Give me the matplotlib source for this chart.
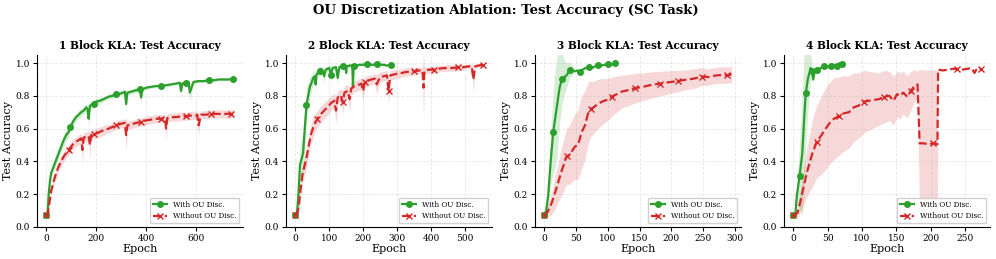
import numpy as np
import matplotlib
matplotlib.use("Agg")
import matplotlib.pyplot as plt

plt.rcParams['font.family'] = ['DejaVu Serif']

GREEN = '#2ca02c'
RED = '#d62728'

# ---- 1 block ----
g1_ep = [0, 5, 10, 15, 20, 30, 40, 50, 60, 70,
         80, 90, 95, 100, 110, 120, 130, 140, 150, 160,
         165, 170, 175, 190, 200, 215, 230, 250, 265, 280,
         300, 315, 320, 325, 340, 360, 375, 380, 385, 400,
         420, 440, 460, 480, 500, 520, 535, 540, 545, 560,
         570, 575, 590, 610, 630, 650, 670, 690, 710, 730,
         750]
g1_acc = [0.07, 0.07, 0.20, 0.28, 0.33, 0.37, 0.41, 0.45, 0.49, 0.53,
          0.56, 0.58, 0.61, 0.62, 0.65, 0.67, 0.685, 0.70, 0.71, 0.73,
          0.72, 0.66, 0.74, 0.75, 0.765, 0.77, 0.78, 0.795, 0.80, 0.81,
          0.815, 0.825, 0.75, 0.82, 0.825, 0.835, 0.84, 0.79, 0.84, 0.85,
          0.855, 0.86, 0.86, 0.865, 0.87, 0.875, 0.88, 0.83, 0.875, 0.88,
          0.885, 0.82, 0.885, 0.89, 0.89, 0.895, 0.895, 0.90, 0.90, 0.90,
          0.905]
g1_std = [0.0, 0.01, 0.03, 0.03, 0.03, 0.03, 0.035, 0.035, 0.035, 0.035,
          0.035, 0.035, 0.03, 0.03, 0.03, 0.025, 0.025, 0.025, 0.02, 0.02,
          0.02, 0.05, 0.02, 0.02, 0.02, 0.02, 0.015, 0.015, 0.015, 0.015,
          0.015, 0.015, 0.05, 0.015, 0.015, 0.015, 0.01, 0.04, 0.01, 0.01,
          0.01, 0.01, 0.01, 0.01, 0.01, 0.01, 0.01, 0.05, 0.01, 0.01,
          0.01, 0.06, 0.01, 0.01, 0.01, 0.01, 0.01, 0.01, 0.01, 0.01,
          0.01]

r1_ep = [0, 5, 10, 15, 20, 30, 40, 50, 60, 70,
         80, 90, 100, 110, 120, 130, 140, 145, 150, 160,
         170, 175, 180, 190, 200, 215, 230, 250, 265, 280,
         300, 315, 320, 325, 340, 360, 380, 400, 420, 440,
         460, 475, 480, 485, 500, 520, 540, 560, 580, 600,
         605, 610, 620, 640, 660, 680, 700, 720, 740, 750]
r1_acc = [0.07, 0.07, 0.12, 0.17, 0.22, 0.28, 0.33, 0.37, 0.40, 0.43,
          0.45, 0.47, 0.49, 0.51, 0.52, 0.53, 0.54, 0.47, 0.545, 0.55,
          0.555, 0.50, 0.56, 0.565, 0.57, 0.58, 0.59, 0.60, 0.61, 0.62,
          0.63, 0.635, 0.56, 0.62, 0.625, 0.635, 0.64, 0.65, 0.655, 0.66,
          0.66, 0.665, 0.60, 0.665, 0.67, 0.67, 0.675, 0.675, 0.68, 0.68,
          0.685, 0.62, 0.685, 0.685, 0.69, 0.69, 0.69, 0.69, 0.69, 0.69]
r1_std = [0.0, 0.01, 0.02, 0.02, 0.025, 0.03, 0.03, 0.03, 0.03, 0.03,
          0.03, 0.03, 0.03, 0.03, 0.03, 0.03, 0.03, 0.08, 0.03, 0.03,
          0.03, 0.08, 0.03, 0.03, 0.03, 0.03, 0.03, 0.025, 0.025, 0.025,
          0.025, 0.025, 0.1, 0.025, 0.025, 0.025, 0.025, 0.025, 0.025, 0.025,
          0.025, 0.025, 0.07, 0.025, 0.025, 0.025, 0.025, 0.025, 0.025, 0.025,
          0.025, 0.06, 0.025, 0.025, 0.025, 0.025, 0.025, 0.025, 0.025, 0.025]

# ---- 2 blocks ----
g2_ep = [0, 5, 9, 14, 18, 23, 28, 33, 38, 43,
         48, 53, 58, 60, 62, 66, 72, 80, 85, 90,
         100, 105, 110, 120, 125, 130, 140, 148, 150, 152,
         160, 168, 170, 172, 180, 190, 200, 210, 220, 230,
         240, 250, 260, 270, 283]
g2_acc = [0.07, 0.08, 0.19, 0.38, 0.41, 0.45, 0.60, 0.745, 0.80, 0.855,
          0.88, 0.91, 0.92, 0.87, 0.925, 0.94, 0.95, 0.955, 0.92, 0.96,
          0.97, 0.93, 0.97, 0.975, 0.91, 0.975, 0.98, 0.975, 0.94, 0.98,
          0.985, 0.985, 0.86, 0.98, 0.985, 0.99, 0.99, 0.995, 0.99, 0.99,
          0.995, 0.99, 0.99, 0.985, 0.99]
g2_std = [0.0, 0.02, 0.06, 0.1, 0.12, 0.12, 0.12, 0.1, 0.08, 0.06,
          0.05, 0.04, 0.035, 0.05, 0.035, 0.03, 0.03, 0.025, 0.04, 0.02,
          0.02, 0.04, 0.015, 0.015, 0.05, 0.01, 0.01, 0.01, 0.04, 0.01,
          0.01, 0.01, 0.08, 0.01, 0.01, 0.005, 0.005, 0.005, 0.005, 0.005,
          0.005, 0.005, 0.005, 0.005, 0.005]

r2_ep = [0, 5, 10, 15, 22, 32, 40, 47, 55, 65,
         76, 85, 95, 105, 115, 120, 125, 134, 140, 145,
         155, 160, 165, 173, 185, 195, 200, 205, 221, 235,
         240, 250, 262, 270, 275, 280, 290, 300, 315, 325,
         338, 350, 365, 375, 378, 381, 395, 410, 420, 435,
         450, 465, 480, 495, 510, 520, 525, 530, 540, 552]
r2_acc = [0.07, 0.08, 0.12, 0.22, 0.33, 0.41, 0.50, 0.57, 0.62, 0.66,
          0.69, 0.71, 0.73, 0.755, 0.77, 0.71, 0.79, 0.805, 0.76, 0.82,
          0.83, 0.78, 0.845, 0.857, 0.865, 0.875, 0.83, 0.885, 0.898, 0.905,
          0.87, 0.915, 0.92, 0.925, 0.83, 0.925, 0.93, 0.935, 0.94, 0.945,
          0.949, 0.95, 0.955, 0.955, 0.85, 0.955, 0.96, 0.96, 0.965, 0.969,
          0.97, 0.97, 0.975, 0.975, 0.98, 0.98, 0.90, 0.98, 0.985, 0.99]
r2_std = [0.0, 0.01, 0.03, 0.05, 0.06, 0.06, 0.06, 0.06, 0.06, 0.05,
          0.05, 0.05, 0.05, 0.045, 0.045, 0.08, 0.04, 0.04, 0.07, 0.04,
          0.04, 0.07, 0.04, 0.035, 0.035, 0.035, 0.06, 0.035, 0.03, 0.03,
          0.06, 0.03, 0.03, 0.03, 0.08, 0.03, 0.03, 0.025, 0.025, 0.025,
          0.025, 0.025, 0.02, 0.02, 0.2, 0.02, 0.02, 0.02, 0.02, 0.02,
          0.02, 0.02, 0.02, 0.015, 0.015, 0.015, 0.08, 0.015, 0.01, 0.01]

# ---- 3 blocks ----
g3_ep = [0, 3, 6, 10, 14, 17, 20, 24, 28, 32,
         36, 40, 44, 48, 52, 56, 60, 65, 70, 75,
         80, 84, 90, 95, 100, 106, 112]
g3_acc = [0.07, 0.10, 0.19, 0.40, 0.58, 0.66, 0.74, 0.85, 0.905, 0.915,
          0.93, 0.96, 0.955, 0.95, 0.955, 0.945, 0.96, 0.97, 0.975, 0.97,
          0.98, 0.99, 0.985, 0.99, 0.995, 0.99, 1.0]
g3_std = [0.0, 0.03, 0.08, 0.15, 0.25, 0.3, 0.3, 0.22, 0.15, 0.1,
          0.07, 0.05, 0.03, 0.0, 0.0, 0.0, 0.0, 0.0, 0.0, 0.0,
          0.0, 0.0, 0.0, 0.0, 0.0, 0.0, 0.0]

r3_ep = [0, 5, 12, 17, 22, 28, 35, 40, 48, 53,
         59, 64, 69, 73, 77, 84, 91, 98, 106, 114,
         122, 132, 143, 155, 169, 182, 196, 210, 222, 235,
         248, 258, 269, 280, 288, 295]
r3_acc = [0.07, 0.09, 0.15, 0.21, 0.275, 0.35, 0.43, 0.44, 0.49, 0.50,
          0.58, 0.62, 0.694, 0.72, 0.728, 0.75, 0.765, 0.775, 0.795, 0.81,
          0.826, 0.835, 0.847, 0.855, 0.867, 0.875, 0.883, 0.89, 0.898, 0.905,
          0.918, 0.915, 0.924, 0.928, 0.925, 0.932]
r3_std = [0.0, 0.03, 0.07, 0.1, 0.12, 0.15, 0.17, 0.18, 0.2, 0.21,
          0.22, 0.21, 0.19, 0.17, 0.16, 0.15, 0.14, 0.13, 0.12, 0.11,
          0.1, 0.095, 0.09, 0.085, 0.08, 0.075, 0.07, 0.065, 0.06, 0.06,
          0.055, 0.05, 0.05, 0.05, 0.05, 0.05]

# ---- 4 blocks ----
g4_ep = [0, 3, 5, 9, 13, 16, 18, 21, 25, 27,
         29, 31, 35, 40, 45, 50, 55, 59, 63, 67,
         71, 74]
g4_acc = [0.07, 0.08, 0.19, 0.31, 0.45, 0.68, 0.816, 0.90, 0.97, 0.95,
          0.90, 0.95, 0.96, 0.97, 0.98, 0.975, 0.985, 0.99, 0.98, 1.0,
          0.995, 1.0]
g4_std = [0.0, 0.02, 0.05, 0.2, 0.38, 0.4, 0.32, 0.2, 0.08, 0.05,
          0.0, 0.0, 0.0, 0.0, 0.0, 0.0, 0.0, 0.0, 0.0, 0.0,
          0.0, 0.0]

r4_ep = [0, 6, 10, 13, 20, 27, 34, 41, 47, 53,
         59, 66, 74, 81, 88, 95, 103, 110, 117, 125,
         132, 140, 146, 151, 156, 160, 166, 171, 176, 181,
         184, 190, 197, 204, 210, 211, 218, 225, 232, 239,
         246, 253, 260, 264, 268, 273]
r4_acc = [0.07, 0.085, 0.15, 0.21, 0.337, 0.44, 0.52, 0.56, 0.60, 0.635,
          0.66, 0.675, 0.694, 0.70, 0.73, 0.74, 0.765, 0.77, 0.775, 0.78,
          0.795, 0.80, 0.77, 0.81, 0.80, 0.82, 0.795, 0.83, 0.857, 0.87,
          0.51, 0.51, 0.505, 0.51, 0.505, 0.96, 0.955, 0.96, 0.965, 0.965,
          0.96, 0.965, 0.97, 0.94, 0.97, 0.965]
r4_std = [0.0, 0.03, 0.06, 0.1, 0.15, 0.2, 0.22, 0.24, 0.25, 0.25,
          0.25, 0.24, 0.23, 0.22, 0.21, 0.2, 0.19, 0.18, 0.17, 0.16,
          0.16, 0.15, 0.15, 0.14, 0.14, 0.13, 0.13, 0.12, 0.1, 0.08,
          0.45, 0.45, 0.45, 0.45, 0.45, 0.0, 0.0, 0.0, 0.0, 0.0,
          0.0, 0.0, 0.0, 0.0, 0.0, 0.0]

panels = [
    ("1 Block KLA: Test Accuracy", (g1_ep, g1_acc, g1_std), (r1_ep, r1_acc, r1_std)),
    ("2 Block KLA: Test Accuracy", (g2_ep, g2_acc, g2_std), (r2_ep, r2_acc, r2_std)),
    ("3 Block KLA: Test Accuracy", (g3_ep, g3_acc, g3_std), (r3_ep, r3_acc, r3_std)),
    ("4 Block KLA: Test Accuracy", (g4_ep, g4_acc, g4_std), (r4_ep, r4_acc, r4_std)),
]


def mark_idx(ep):
    ep = np.asarray(ep)
    step = max(1, int(ep[-1]) // 8)
    idx = [int(np.argmin(np.abs(ep - k))) for k in range(0, int(ep[-1]) + 1, step)]
    return sorted(set(idx))


def draw(ax, series, color, ls, marker, label):
    ep, acc, std = (np.asarray(a, dtype=float) for a in series)
    ax.fill_between(ep, acc - std, acc + std, color=color, alpha=0.18, lw=0)
    ax.plot(ep, acc, color=color, ls=ls, lw=1.6, marker=marker, ms=4,
            markevery=mark_idx(ep), label=label)


fig, axes = plt.subplots(1, 4, figsize=(9.96, 2.59), dpi=100)
fig.subplots_adjust(left=0.037, right=0.994, bottom=0.124, top=0.788, wspace=0.209)

for ax, (title, gs, rs) in zip(axes, panels):
    draw(ax, gs, GREEN, '-', 'o', 'With OU Disc.')
    draw(ax, rs, RED, '--', 'x', 'Without OU Disc.')
    ax.set_ylim(0, 1.05)
    ax.set_title(title, fontsize=7.6, fontweight='bold', pad=4)
    ax.set_xlabel('Epoch', fontsize=8, labelpad=1)
    ax.set_ylabel('Test Accuracy', fontsize=8, labelpad=2)
    ax.tick_params(labelsize=6.5, length=3, pad=2)
    ax.grid(True, ls='--', alpha=0.3, lw=0.6)
    ax.spines['top'].set_visible(False)
    ax.spines['right'].set_visible(False)
    ax.legend(loc='lower right', fontsize=5.2, framealpha=0.9)

fig.suptitle('OU Discretization Ablation: Test Accuracy (SC Task)', fontsize=9.5,
             fontweight='bold', x=0.508, y=0.985)

fig.savefig('out.png', dpi=100)
